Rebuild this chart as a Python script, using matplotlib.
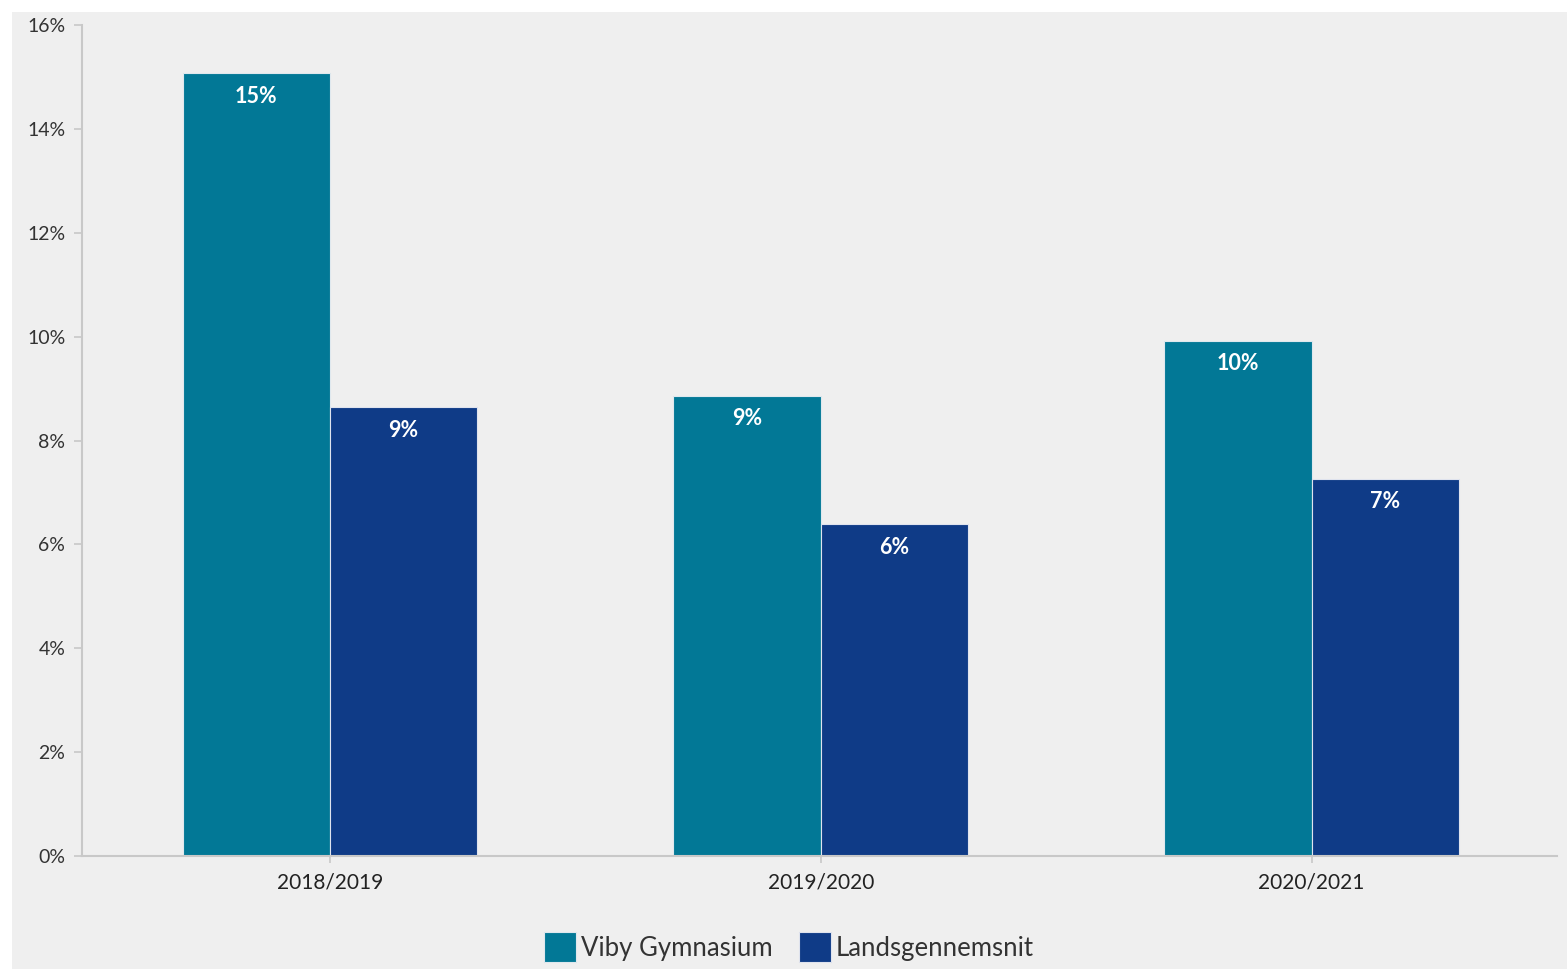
import matplotlib.pyplot as plt
from matplotlib.patches import Rectangle
from matplotlib.ticker import FuncFormatter
import numpy as np

# Data
years = ["2018/2019", "2019/2020", "2020/2021"]
viby = [15.07, 8.86, 9.92]
lands = [8.64, 6.39, 7.26]
viby_labels = ["15%", "9%", "10%"]
lands_labels = ["9%", "6%", "7%"]

teal = "#027896"
navy = "#0f3b87"
bg = "#efefef"

plt.rcParams['font.family'] = ['Lato', 'DejaVu Sans']

fig = plt.figure(figsize=(15.67, 9.69), dpi=100)
fig.patch.set_facecolor("white")
# grey panel (white strip on top and left like the screenshot)
fig.patches.append(Rectangle((12 / 1567, 0), 1 - 12 / 1567, 1 - 12 / 969,
                             transform=fig.transFigure, facecolor=bg,
                             edgecolor="none", zorder=-10))

ax = fig.add_axes([82 / 1567, 1 - 856 / 969, (1557 - 82) / 1567, (856 - 25) / 969])
ax.set_facecolor(bg)

x = np.arange(len(years))
w = 0.3
b1 = ax.bar(x - w / 2, viby, w, color=teal, edgecolor="#dfe8ee", linewidth=0.8,
            label="Viby Gymnasium")
b2 = ax.bar(x + w / 2, lands, w, color=navy, edgecolor="#dfe3ee", linewidth=0.8,
            label="Landsgennemsnit")

for bars, labs in ((b1, viby_labels), (b2, lands_labels)):
    for rect, lab in zip(bars, labs):
        ax.annotate(lab, (rect.get_x() + rect.get_width() / 2, rect.get_height()),
                    xytext=(0, -23), textcoords="offset pixels",
                    ha="center", va="center", color="white",
                    fontsize=15.5, fontweight="bold")

ax.set_xlim(-0.505, 2.5)
ax.set_ylim(0, 16)
ax.set_yticks(np.arange(0, 17, 2))
ax.yaxis.set_major_formatter(FuncFormatter(lambda v, p: f"{v:.0f}%"))
ax.set_xticks(x)
ax.set_xticklabels(years)

for s in ("top", "right"):
    ax.spines[s].set_visible(False)
for s in ("left", "bottom"):
    ax.spines[s].set_color("#c8c8c8")
    ax.spines[s].set_linewidth(1.5)

ax.tick_params(axis="y", colors="#c8c8c8", labelcolor="#333333", labelsize=14,
               length=6, width=1.2, pad=6)
ax.tick_params(axis="x", colors="#c8c8c8", labelcolor="#222222", labelsize=15,
               length=5, width=1.2, pad=7)

fig.legend(handles=[b1, b2], loc="center", bbox_to_anchor=(789 / 1567, 1 - 947 / 969),
           ncol=2, frameon=False, fontsize=18.5, handlelength=1.25, handleheight=1.4,
           handletextpad=0.2, columnspacing=1.0, labelcolor="#333333")

fig.savefig("out.png", dpi=100, facecolor=fig.get_facecolor())
